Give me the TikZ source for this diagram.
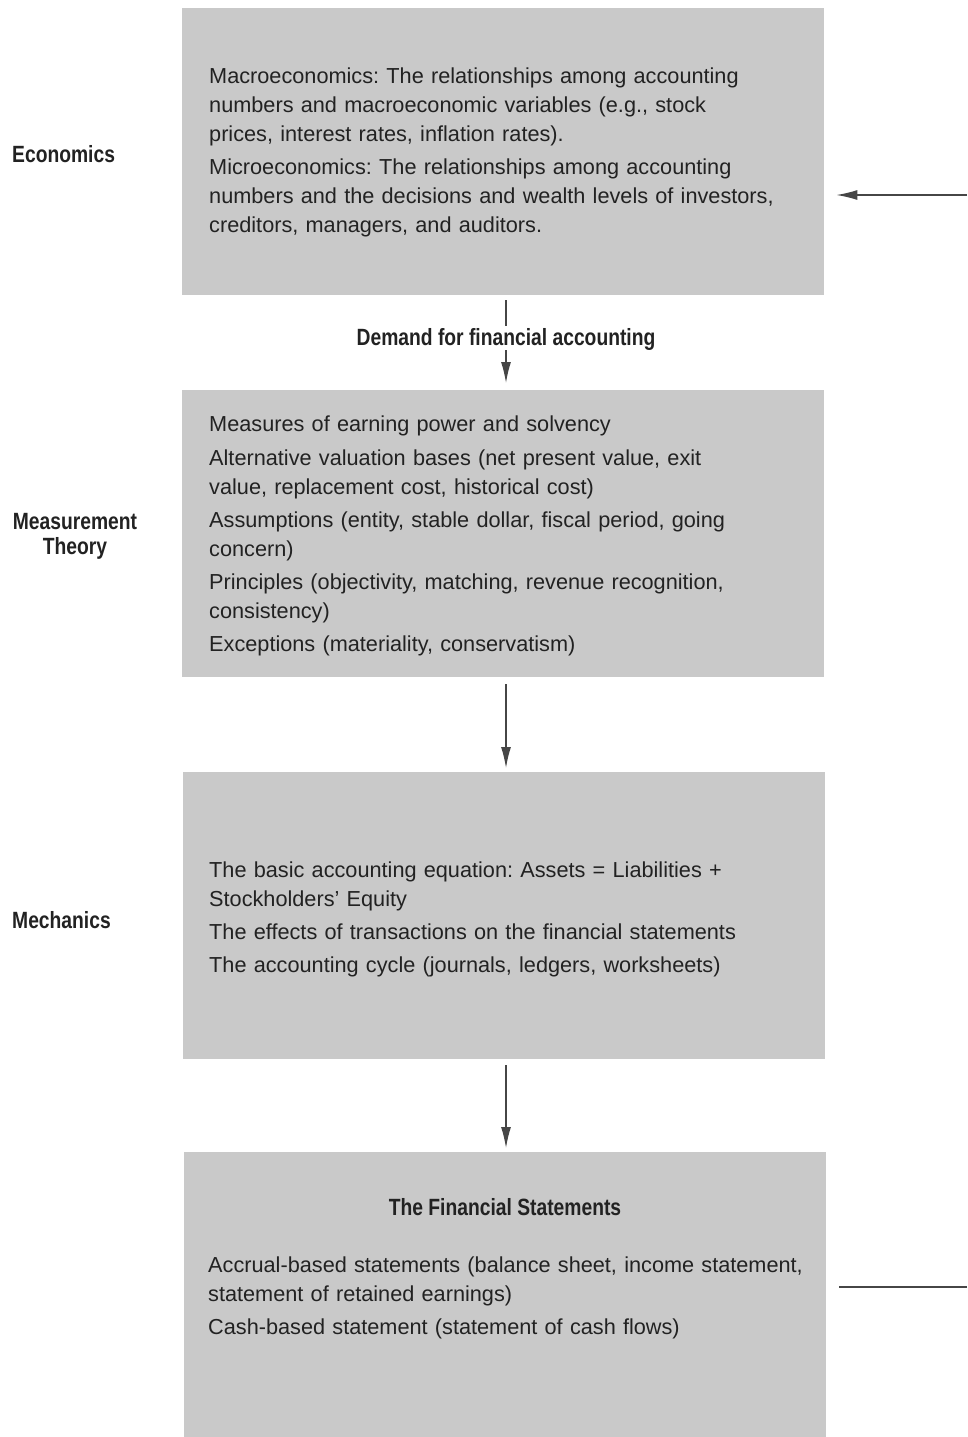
\documentclass[tikz,border=0pt]{standalone}
\usepackage{fontspec}
\setmainfont{Liberation Sans}
\newfontfamily\labelfont{Liberation Sans}[FakeStretch=0.82]
\usetikzlibrary{arrows.meta}
\definecolor{boxgray}{RGB}{201,201,201}
\definecolor{ink}{RGB}{34,34,34}
\definecolor{linegray}{RGB}{70,70,70}
\tikzset{
  box/.style={fill=boxgray, draw=none, minimum width=642pt, minimum height=287pt, inner sep=0pt, anchor=north west},
  body/.style={font=\frenchspacing\fontsize{21.7}{29}\selectfont, text=ink, text width=620pt, align=left, inner sep=0pt, anchor=west},
  side/.style={font=\labelfont\bfseries\fontsize{23.5}{25}\selectfont, text=ink, inner sep=0pt, align=center},
  conn/.style={draw=linegray, line width=1.3pt},
  tipd/.style={-{Latex[length=21pt,width=10pt]}}
}
\begin{document}
\begin{tikzpicture}[x=1pt,y=-1pt]
\useasboundingbox (0,0) rectangle (967,1437);
% boxes
\node[box] (b1) at (182,8) {};
\node[box] (b2) at (182,390) {};
\node[box] (b3) at (183,772) {};
\node[box, minimum height=285pt] (b4) at (184,1152) {};
% box texts
\node[body] (t1) at (209,152) {Macroeconomics: The relationships among accounting\\
numbers and macroeconomic variables (e.g., stock\\
prices, interest rates, inflation rates).\\[4pt]
Microeconomics: The relationships among accounting\\
numbers and the decisions and wealth levels of investors,\\
creditors, managers, and auditors.};
\node[body] (t2) at (209,536) {Measures of earning power and solvency\\[5pt]
Alternative valuation bases (net present value, exit\\
value, replacement cost, historical cost)\\[4pt]
Assumptions (entity, stable dollar, fiscal period, going\\
concern)\\[4pt]
Principles (objectivity, matching, revenue recognition,\\
consistency)\\[4pt]
Exceptions (materiality, conservatism)};
\node[body] (t3) at (209,919) {The basic accounting equation: Assets = Liabilities +\\
Stockholders’ Equity\\[4pt]
The effects of transactions on the financial statements\\[4pt]
The accounting cycle (journals, ledgers, worksheets)};
\node[side] (t4h) at (505,1207) {The Financial Statements};
\node[body, anchor=north west] (t4) at (208,1257) {Accrual-based statements (balance sheet, income statement,\\
statement of retained earnings)\\[4pt]
Cash-based statement (statement of cash flows)};
% side labels
\node[side, anchor=west] (l1) at (12,154) {Economics};
\node[side] (l2) at (75,536) {Measurement\\Theory};
\node[side, anchor=west] (l3) at (12,920) {Mechanics};
% demand label
\node[side] (dem) at (506,339) {Demand for financial accounting};
% connectors
\draw[conn] ([yshift=-5pt]b1.south -| dem.north) -- ([yshift=2pt]dem.north);
\draw[conn, tipd] (dem.south) -- ([yshift=7pt]b2.north -| dem.south);
\draw[conn, tipd] ([yshift=-7pt]b2.south -| dem.south) -- ([yshift=4pt]b3.north -| dem.south);
\draw[conn, tipd] ([yshift=-6pt]b3.south -| dem.south) -- ([yshift=4pt]b4.north -| dem.south);
\coordinate (r1) at (967,195);
\coordinate (r2) at (967,1287);
\draw[conn, tipd] (r1) -- ([xshift=12pt]b1.east |- r1);
\draw[conn] (r2) -- ([xshift=13pt]b4.east |- r2);
\end{tikzpicture}
\end{document}
